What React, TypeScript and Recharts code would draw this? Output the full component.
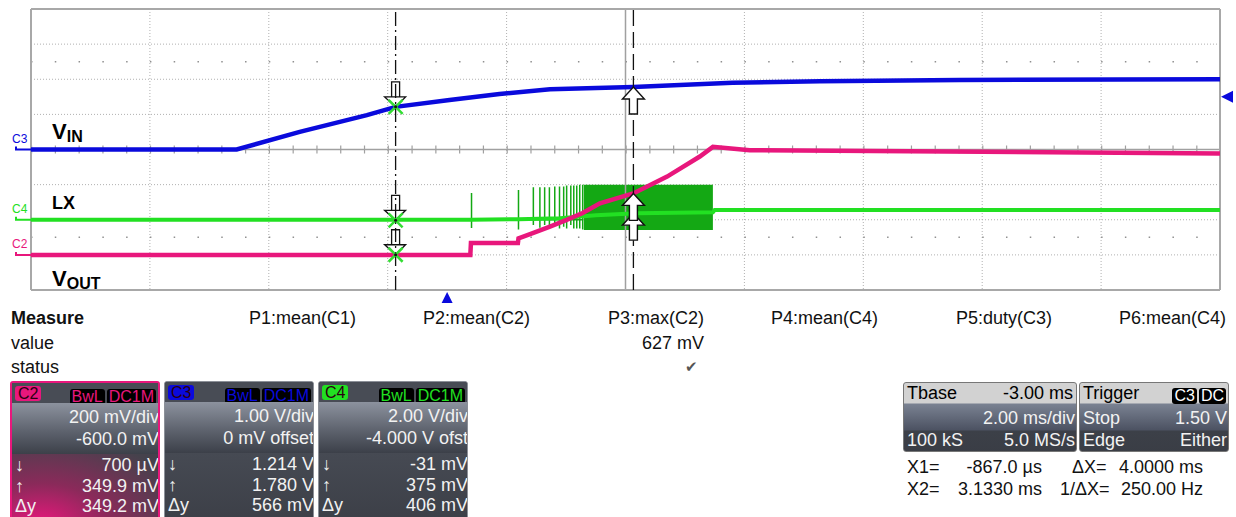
import {
  ComposedChart,
  Line,
  Area,
  XAxis,
  YAxis,
  CartesianGrid,
  ReferenceLine,
  ReferenceDot,
} from 'recharts';

const FONT = '"Liberation Sans", Arial, Helvetica, sans-serif';

// screen: 10 divisions of 2 ms, 8 vertical divisions
const timeTicks = [-7, -5, -3, -1, 1, 3, 5, 7, 9, 11, 13];
const divTicks = [-4, -3, -2, -1, 0, 1, 2, 3, 4];
const minorRows = [2.5, -2.5];
const frameX = [-7, 13];
const frameY = [-4, 4];

// channel settings (V/div, ground position in divisions)
const vinPerDiv = 1.0;
const vinGround = 0;
const lxPerDiv = 2.0;
const lxGround = -2;
const voutPerDiv = 0.2;
const voutGround = -3;

// C3: VIN (V) vs time (ms)
const vinTime = [-7, -3.54, -2.48, -1.35, -0.867, 0.04, 0.88, 1.73, 3.13, 4.8, 6.27, 8.62, 13];
const vinVolts = [0, 0, 0.5, 0.98, 1.214, 1.41, 1.58, 1.715, 1.78, 1.9, 1.94, 1.98, 2.0];

// C2: VOUT (V)
const voutTime = [-7, 0.39, 0.4, 1.19, 1.2, 1.44, 1.73, 2.01, 2.28, 2.57, 3.13, 3.7, 4.25, 4.47, 5.09, 9, 13];
const voutVolts = [0, 0, 0.067, 0.067, 0.094, 0.124, 0.161, 0.199, 0.238, 0.294, 0.35, 0.446, 0.56, 0.615, 0.596, 0.587, 0.577];

// C4: LX (V), mean level
const lxTime = [-7, 0.4, 1.2, 1.9, 2.5, 3.2, 4.47, 4.5, 13];
const lxVolts = [0, 0, 0.03, 0.08, 0.25, 0.37, 0.42, 0.55, 0.55];

// LX switching spikes before the burst
const spikeTime = [0.41, 1.2, 1.45, 1.56, 1.64, 1.72, 1.81, 1.89, 1.96, 2.01, 2.08, 2.13, 2.18, 2.23, 2.28];
const spikeHigh = [1.52, 1.69, 1.85, 1.85, 1.85, 1.85, 1.9, 1.9, 1.9, 1.95, 1.95, 1.95, 1.95, 2.0, 2.0];
const spikeLow = [-0.47, -0.55, -0.3, -0.45, -0.3, -0.5, -0.3, -0.5, -0.4, -0.5, -0.3, -0.5, -0.5, -0.5, -0.55];
const spikeBase = 0;

// LX dense switching burst envelope
const burstTime = [2.3, 4.47];
const burstHigh = [2.0, 2.0];
const burstLow = [-0.58, -0.58];

// cursors
const cursorTime = [-0.867, 3.133];
const cursorVin = [1.214, 1.78];
const cursorVout = [0.0007, 0.3499];
const cursorLx = [-0.031, 0.375];
const triggerTime = 0;
const triggerLevel = 1.5;

const BLUE = '#0a0adc';
const PINK = '#e8177c';
const GREEN = '#22e022';
const DARK_GREEN = '#14a814';

const toDiv = (v: number, perDiv: number, ground: number) => v / perDiv + ground;

const vinData = vinTime.map((t, i) => ({ t, y: toDiv(vinVolts[i], vinPerDiv, vinGround) }));
const voutData = voutTime.map((t, i) => ({ t, y: toDiv(voutVolts[i], voutPerDiv, voutGround) }));
const lxData = lxTime.map((t, i) => ({ t, y: toDiv(lxVolts[i], lxPerDiv, lxGround) }));
const spikeData = spikeTime.flatMap((t, i) => [
  { t, y: toDiv(spikeBase, lxPerDiv, lxGround) },
  { t, y: toDiv(spikeHigh[i], lxPerDiv, lxGround) },
  { t, y: toDiv(spikeLow[i], lxPerDiv, lxGround) },
  { t, y: toDiv(spikeBase, lxPerDiv, lxGround) },
]);
const burstData = burstTime.map((t, i) => ({
  t,
  band: [toDiv(burstLow[i], lxPerDiv, lxGround), toDiv(burstHigh[i], lxPerDiv, lxGround)],
}));

const channels = [
  { name: 'C3', color: BLUE, ground: vinGround, main: 'V', sub: 'IN', dy: -10.5, size: 22 },
  { name: 'C4', color: GREEN, ground: lxGround, main: 'LX', sub: '', dy: -10.7, size: 18 },
  { name: 'C2', color: PINK, ground: voutGround, main: 'V', sub: 'OUT', dy: 31, size: 22 },
];

function ChannelTag({ cx, cy, ch }: any) {
  return (
    <g>
      <path d={`M${cx - 15},${cy - 3} L${cx - 15},${cy} L${cx},${cy}`} stroke={ch.color} strokeWidth={2} fill="none" />
      <text x={cx - 19} y={cy - 7} fill={ch.color} fontSize={12} fontFamily={FONT}>
        {ch.name}
      </text>
      <text x={cx + 21} y={cy + ch.dy} fill="#000" fontSize={ch.size} fontWeight="bold" fontFamily={FONT}>
        {ch.main}
        {ch.sub ? (
          <tspan fontSize={16} dy={3}>
            {ch.sub}
          </tspan>
        ) : null}
      </text>
    </g>
  );
}

function DownMarker({ cx, cy }: any) {
  return (
    <g>
      <path
        d={`M${cx - 4},${cy - 10} L${cx - 4},${cy - 25} L${cx + 4},${cy - 25} L${cx + 4},${cy - 10} M${cx - 11},${cy - 10} L${cx + 10},${cy - 10} L${cx},${cy} Z`}
        stroke="#111"
        strokeWidth={1.3}
        fill="none"
      />
      <path d={`M${cx - 7},${cy - 7} L${cx + 7},${cy + 7} M${cx - 7},${cy + 7} L${cx + 7},${cy - 7}`} stroke="#33dd33" strokeWidth={2.5} />
      <circle cx={cx} cy={cy} r={1.5} fill="#111" />
    </g>
  );
}

function UpMarker({ cx, cy }: any) {
  return (
    <path
      d={`M${cx},${cy} L${cx + 11},${cy + 12} L${cx + 4},${cy + 12} L${cx + 4},${cy + 27} L${cx - 4},${cy + 27} L${cx - 4},${cy + 12} L${cx - 11},${cy + 12} Z`}
      stroke="#111"
      strokeWidth={1.4}
      fill="#fff"
    />
  );
}

function TrigBottom({ cx, cy }: any) {
  return <path d={`M${cx},${cy + 2} L${cx + 5.5},${cy + 13} L${cx - 5.5},${cy + 13} Z`} fill={BLUE} />;
}

function TrigRight({ cx, cy }: any) {
  return <path d={`M${cx + 1},${cy} L${cx + 13},${cy - 6} L${cx + 13},${cy + 6} Z`} fill={BLUE} />;
}

function Scope() {
  return (
    <ComposedChart width={1236} height={306} margin={{ top: 9, right: 16, bottom: 16, left: 31 }}>
      <XAxis type="number" dataKey="t" domain={[-7, 13]} ticks={timeTicks} hide allowDataOverflow />
      <YAxis type="number" domain={[-4, 4]} ticks={divTicks} hide allowDataOverflow />
      <CartesianGrid stroke="#b0b0b0" strokeDasharray="1 2" />
      {minorRows.map((r) => (
        <ReferenceLine key={`m${r}`} y={r} stroke="#909090" strokeWidth={1.5} strokeDasharray="1.5 22.28" />
      ))}
      <ReferenceLine y={0} stroke="#a0a0a0" strokeWidth={8} strokeDasharray="1.2 22.58" />
      <ReferenceLine y={0} stroke="#a0a0a0" strokeWidth={1.5} />
      <ReferenceLine x={3} stroke="#a0a0a0" strokeWidth={1.5} />
      {frameX.map((x) => (
        <ReferenceLine key={`fx${x}`} x={x} stroke="#a8a8a8" strokeWidth={2} />
      ))}
      {frameY.map((y) => (
        <ReferenceLine key={`fy${y}`} y={y} stroke="#a8a8a8" strokeWidth={2} />
      ))}

      <Area data={burstData} dataKey="band" type="linear" stroke="none" fill={DARK_GREEN} fillOpacity={1} isAnimationActive={false} />
      <Line data={spikeData} dataKey="y" type="linear" stroke={DARK_GREEN} strokeWidth={1.5} dot={false} isAnimationActive={false} />
      <Line data={lxData} dataKey="y" type="linear" stroke={GREEN} strokeWidth={4} dot={false} isAnimationActive={false} />
      <Line data={voutData} dataKey="y" type="linear" stroke={PINK} strokeWidth={4.5} dot={false} isAnimationActive={false} />
      <Line data={vinData} dataKey="y" type="linear" stroke={BLUE} strokeWidth={4.5} dot={false} isAnimationActive={false} />

      <ReferenceLine x={cursorTime[0]} stroke="#111" strokeWidth={1.3} strokeDasharray="14 4 2 4" />
      <ReferenceLine x={cursorTime[1]} stroke="#111" strokeWidth={1.3} strokeDasharray="16 6" />

      {channels.map((ch) => (
        <ReferenceDot key={ch.name} x={-7} y={ch.ground} r={0} shape={(p: any) => <ChannelTag cx={p.cx} cy={p.cy} ch={ch} />} />
      ))}

      <ReferenceDot x={cursorTime[0]} y={toDiv(cursorVin[0], vinPerDiv, vinGround)} shape={(p: any) => <DownMarker cx={p.cx} cy={p.cy} />} />
      <ReferenceDot x={cursorTime[0]} y={toDiv(cursorLx[0], lxPerDiv, lxGround)} shape={(p: any) => <DownMarker cx={p.cx} cy={p.cy} />} />
      <ReferenceDot x={cursorTime[0]} y={toDiv(cursorVout[0], voutPerDiv, voutGround)} shape={(p: any) => <DownMarker cx={p.cx} cy={p.cy} />} />
      <ReferenceDot x={cursorTime[1]} y={toDiv(cursorVin[1], vinPerDiv, vinGround)} shape={(p: any) => <UpMarker cx={p.cx} cy={p.cy} />} />
      <ReferenceDot x={cursorTime[1]} y={toDiv(cursorLx[1], lxPerDiv, lxGround)} shape={(p: any) => <UpMarker cx={p.cx} cy={p.cy} />} />
      <ReferenceDot x={cursorTime[1]} y={toDiv(cursorVout[1], voutPerDiv, voutGround)} shape={(p: any) => <UpMarker cx={p.cx} cy={p.cy} />} />

      <ReferenceDot x={triggerTime} y={-4} shape={(p: any) => <TrigBottom cx={p.cx} cy={p.cy} />} />
      <ReferenceDot x={13} y={toDiv(triggerLevel, vinPerDiv, vinGround)} shape={(p: any) => <TrigRight cx={p.cx} cy={p.cy} />} />
    </ComposedChart>
  );
}

// measurement panel
const measureLabels = ['P1:mean(C1)', 'P2:mean(C2)', 'P3:max(C2)', 'P4:mean(C4)', 'P5:duty(C3)', 'P6:mean(C4)'];
const measureValues = ['', '', '627 mV', '', '', ''];
const measureStatus = ['', '', '\u2714', '', '', ''];

const boxSettings = [
  { name: 'C2', color: PINK, lines: ['200 mV/div', '-600.0 mV'], meas: ['700 \u00b5V', '349.9 mV', '349.2 mV'] },
  { name: 'C3', color: BLUE, lines: ['1.00 V/div', '0 mV offset'], meas: ['1.214 V', '1.780 V', '566 mV'] },
  { name: 'C4', color: GREEN, lines: ['2.00 V/div', '-4.000 V ofst'], meas: ['-31 mV', '375 mV', '406 mV'] },
];
const measSymbols = ['\u2193', '\u2191', '\u0394y'];

const chip = (text: string, color: string, bg: string) => (
  <span
    style={{
      display: 'inline-block',
      background: bg,
      color,
      borderRadius: 3,
      padding: '0 2px',
      height: 16,
      lineHeight: '16px',
      fontSize: 16,
      marginLeft: 2,
    }}
  >
    {text}
  </span>
);

function ChannelBox({ box, left, selected }: any) {
  const row = (top: number, h: number) => ({ position: 'absolute' as const, left: 0, right: 0, top, height: h });
  return (
    <div
      style={{
        position: 'absolute',
        left,
        top: 381,
        width: 150,
        height: 140,
        boxSizing: 'border-box',
        border: selected ? `2px solid ${box.color}` : '1px solid #8c9098',
        borderRadius: 3,
        overflow: 'hidden',
        background: '#40434b',
        color: '#f2f2f2',
        fontFamily: FONT,
        fontSize: 18,
      }}
    >
      <div style={{ ...row(0, 20), background: '#484c55' }}>
        <span
          style={{
            position: 'absolute',
            left: 3,
            top: 3,
            background: box.color,
            color: '#2a0010',
            borderRadius: 3,
            padding: '0 3px',
            height: 15,
            lineHeight: '15px',
            fontSize: 16,
          }}
        >
          {box.name}
        </span>
        <span style={{ position: 'absolute', right: 2, top: 3 }}>
          {chip('BwL', box.color, '#000')}
          {chip('DC1M', box.color, '#000')}
        </span>
      </div>
      <div style={{ ...row(20, 51), background: 'linear-gradient(#8c929e, #5e636e 55%, #3c4049)' }}>
        {box.lines.map((l: string, i: number) => (
          <div key={l} style={{ position: 'absolute', right: -1, top: 3 + i * 21.5, lineHeight: '22px', whiteSpace: 'nowrap' }}>
            {l}
          </div>
        ))}
      </div>
      <div
        style={{
          ...row(71, 70),
          background: selected
            ? `radial-gradient(ellipse 150px 90px at 20% 100%, ${box.color} 0%, #8a2a5a 45%, #45424c 100%)`
            : 'linear-gradient(#464a53, #3c3f47)',
        }}
      >
        {box.meas.map((m: string, i: number) => (
          <div key={i} style={{ position: 'absolute', left: 0, right: 0, top: i * 20.5, lineHeight: '22px' }}>
            <span style={{ position: 'absolute', left: 3 }}>{measSymbols[i]}</span>
            <span style={{ position: 'absolute', right: -1, whiteSpace: 'nowrap' }}>{m}</span>
          </div>
        ))}
      </div>
    </div>
  );
}

function InfoBox({ left, width, head, rows, chips }: any) {
  return (
    <div
      style={{
        position: 'absolute',
        left,
        top: 382,
        width,
        height: 70,
        boxSizing: 'border-box',
        border: '1px solid #777',
        borderRadius: 3,
        overflow: 'hidden',
        fontFamily: FONT,
        fontSize: 18,
        background: 'linear-gradient(#d2d2d2 0px, #d2d2d2 20px, #7a8292 21px, #4c5262 47px, #3c4048 48px, #3a3d45 70px)',
        color: '#f2f2f2',
      }}
    >
      <div style={{ position: 'absolute', left: 3, right: 3, top: 0, height: 20, lineHeight: '20px', color: '#000' }}>
        <span style={{ position: 'absolute', left: 0 }}>{head[0]}</span>
        <span style={{ position: 'absolute', right: 0 }}>{head[1]}</span>
        {chips ? (
          <span style={{ position: 'absolute', right: -1, top: 2 }}>
            {chips.map((c: string) => (
              <span key={c}>{chip(c, '#fff', '#000')}</span>
            ))}
          </span>
        ) : null}
      </div>
      {rows.map((r: string[], i: number) => (
        <div key={i} style={{ position: 'absolute', left: 3, right: 1, top: 25 + i * 22, lineHeight: '20px', whiteSpace: 'nowrap' }}>
          <span style={{ position: 'absolute', left: 0 }}>{r[0]}</span>
          <span style={{ position: 'absolute', right: 0 }}>{r[1]}</span>
        </div>
      ))}
    </div>
  );
}

const cursorRows = [
  ['X1=', '-867.0 \u00b5s', '\u0394X=', '4.0000 ms'],
  ['X2=', '3.1330 ms', '1/\u0394X=', '250.00 Hz'],
];

export default function App() {
  const abs = (left: number, top: number): any => ({ position: 'absolute', left, top });
  return (
    <div
      style={{
        position: 'absolute',
        left: 0,
        top: 0,
        width: 1236,
        height: 517,
        overflow: 'hidden',
        background: '#fff',
        fontFamily: FONT,
        color: '#111',
      }}
    >
      <Scope />

      <div style={{ ...abs(11, 307), fontSize: 18, fontWeight: 'bold', lineHeight: '22px' }}>Measure</div>
      <div style={{ ...abs(11, 332), fontSize: 18, lineHeight: '22px' }}>value</div>
      <div style={{ ...abs(11, 356), fontSize: 18, lineHeight: '22px' }}>status</div>
      {measureLabels.map((m, i) => (
        <div key={m + i} style={{ ...abs(182 + 174 * i, 307), width: 174, textAlign: 'right', fontSize: 18, lineHeight: '22px' }}>
          <div>{m}</div>
          <div style={{ marginTop: 3 }}>{measureValues[i] || '\u00a0'}</div>
          <div style={{ marginTop: 2, color: '#555', fontSize: 15, paddingRight: 6 }}>{measureStatus[i] || '\u00a0'}</div>
        </div>
      ))}

      {boxSettings.map((b, i) => (
        <ChannelBox key={b.name} box={b} left={10 + i * 154} selected={i === 0} />
      ))}

      <InfoBox left={903} width={174} head={['Tbase', '-3.00 ms']} rows={[['', '2.00 ms/div'], ['100 kS', '5.0 MS/s']]} />
      <InfoBox left={1079} width={150} head={['Trigger', '']} chips={['C3', 'DC']} rows={[['Stop', '1.50 V'], ['Edge', 'Either']]} />

      {cursorRows.map((r, i) => (
        <div key={i} style={{ position: 'absolute', left: 0, top: 456 + i * 22, width: 1236, fontSize: 18, lineHeight: '22px' }}>
          <span style={{ position: 'absolute', left: 907 }}>{r[0]}</span>
          <span style={{ position: 'absolute', right: 1236 - 1042 }}>{r[1]}</span>
          <span style={{ position: 'absolute', left: r[2].length > 3 ? 1060 : 1072 }}>{r[2]}</span>
          <span style={{ position: 'absolute', right: 1236 - 1203 }}>{r[3]}</span>
        </div>
      ))}
    </div>
  );
}
